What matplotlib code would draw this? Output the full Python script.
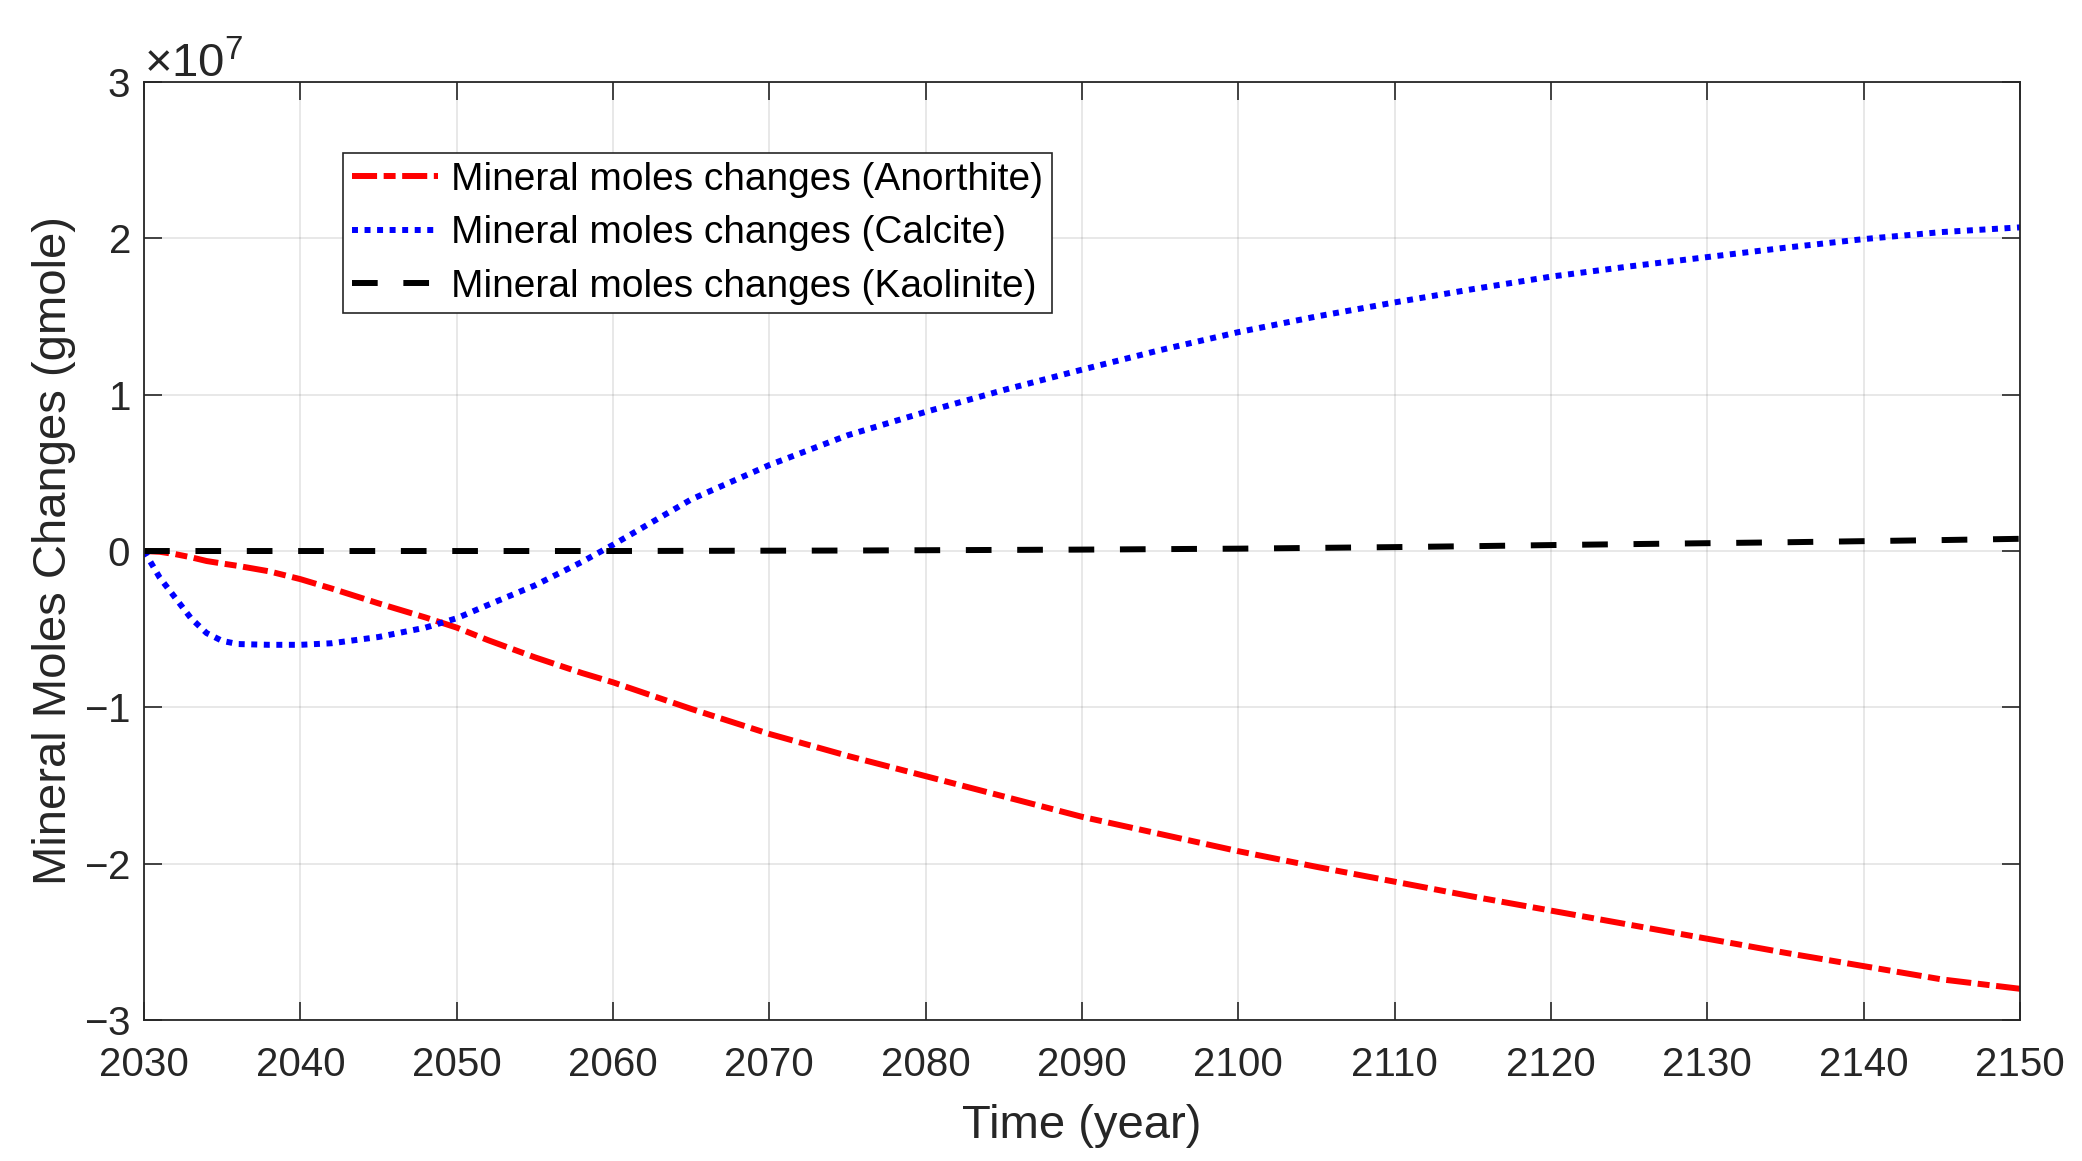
import numpy as np
import matplotlib
matplotlib.use("Agg")
import matplotlib.pyplot as plt

plt.rcParams['font.family'] = ['Liberation Sans', 'DejaVu Sans']
plt.rcParams['mathtext.fontset'] = 'custom'
plt.rcParams['mathtext.rm'] = 'Liberation Sans'
plt.rcParams['mathtext.it'] = 'Liberation Sans:italic'
plt.rcParams['axes.unicode_minus'] = True

# ---- data (values in units of 1e7 gmole) ----
years = [2030, 2031, 2032, 2033, 2034, 2035, 2036, 2038, 2040, 2042, 2045, 2048,
         2050, 2052, 2055, 2058, 2060, 2065, 2070, 2075, 2080, 2085, 2090, 2095,
         2100, 2105, 2110, 2115, 2120, 2125, 2130, 2135, 2140, 2145, 2150]

anorthite = [0.0, -0.005, -0.02, -0.04, -0.064, -0.08, -0.095, -0.13, -0.18, -0.24,
             -0.335, -0.425, -0.49, -0.57, -0.68, -0.78, -0.84, -1.01, -1.17, -1.31,
             -1.44, -1.57, -1.70, -1.81, -1.92, -2.02, -2.115, -2.21, -2.30, -2.39,
             -2.48, -2.57, -2.655, -2.74, -2.80]

calcite = [0.0, -0.17, -0.30, -0.43, -0.525, -0.575, -0.595, -0.60, -0.60, -0.59,
           -0.55, -0.49, -0.43, -0.345, -0.22, -0.07, 0.04, 0.33, 0.55, 0.74,
           0.89, 1.03, 1.16, 1.285, 1.40, 1.50, 1.59, 1.675, 1.755, 1.82,
           1.88, 1.94, 1.995, 2.04, 2.07]

kaolinite = [0.0, 0.0, 0.0, 0.0, 0.0, 0.0, 0.0, 0.0, 0.0, 0.0,
             0.0, 0.0, 0.0, 0.0, 0.0, 0.0, 0.0, 0.001, 0.002, 0.003,
             0.005, 0.007, 0.009, 0.012, 0.015, 0.02, 0.025, 0.031, 0.038, 0.044,
             0.05, 0.056, 0.063, 0.07, 0.078]

labels = ['Mineral moles changes (Anorthite)',
          'Mineral moles changes (Calcite)',
          'Mineral moles changes (Kaolinite)']

scale = 1e7
x = np.array(years)

fig = plt.figure(figsize=(20.82, 11.61), dpi=100)
ax = fig.add_axes([0.0692, 0.1214, 0.9010, 0.8080])

lw = 4.3
ax.plot(x, np.array(anorthite) * scale, color='#ff0000', lw=lw,
        linestyle=(0, (4.2, 1.1, 2.0, 1.1)), label=labels[0], dash_capstyle='butt')
ax.plot(x, np.array(calcite) * scale, color='#0000ff', lw=lw,
        linestyle=(0, (1.0, 1.1)), label=labels[1], dash_capstyle='butt')
ax.plot(x, np.array(kaolinite) * scale, color='#000000', lw=lw,
        linestyle=(0, (4.3, 4.3)), label=labels[2], dash_capstyle='butt')

ax.set_xlim(2030, 2150)
ax.set_ylim(-3e7, 3e7)
ax.set_xticks(np.arange(2030, 2151, 10))
ax.set_yticks(np.arange(-3e7, 3.01e7, 1e7))
ax.ticklabel_format(style='sci', axis='y', scilimits=(7, 7), useMathText=True)
ax.ticklabel_format(axis='x', useOffset=False, style='plain')

axis_col = '#262626'
ax.grid(True, color='#262626', alpha=0.12, lw=1.2)
ax.set_axisbelow(True)
for s in ax.spines.values():
    s.set_color(axis_col)
    s.set_linewidth(1.3)
ax.tick_params(axis='both', direction='in', length=13, width=1.2, colors=axis_col,
               labelsize=29, top=True, right=True, labelcolor='#262626')
ax.tick_params(axis='x', pad=19)
ax.tick_params(axis='y', pad=10)
ax.yaxis.get_offset_text().set_fontsize(34)
ax.yaxis.get_offset_text().set_color('#262626')

ax.set_xlabel('Time (year)', fontsize=34, color='#262626', labelpad=14)
ax.set_ylabel('Mineral Moles Changes (gmole)', fontsize=34, color='#262626', labelpad=6)

leg = ax.legend(loc='upper left', bbox_to_anchor=(0.1063, 0.924), fontsize=28,
                frameon=True, fancybox=False, edgecolor='#262626', framealpha=1,
                handlelength=2.2, handletextpad=0.35, labelspacing=0.45,
                borderpad=0.22, borderaxespad=0)
leg.get_frame().set_linewidth(1.2)

fig.savefig('out.png', dpi=100)
